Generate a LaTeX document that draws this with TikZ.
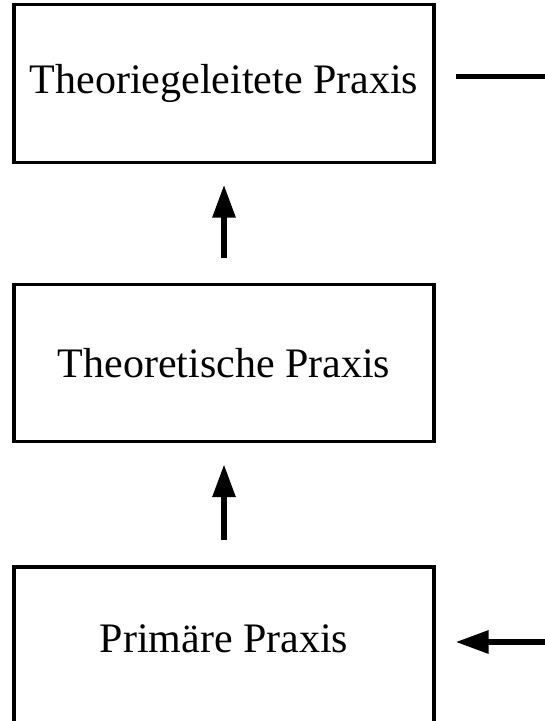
\documentclass[tikz,border=0pt]{standalone}
\usepackage{fontspec}
\setmainfont{Liberation Serif}
\usetikzlibrary{arrows.meta}
\tikzset{
  praxis/.style={draw, line width=2.3pt, inner sep=0pt, minimum width=315pt,
    font=\fontsize{31.5}{36}\selectfont},
  flow/.style={line width=4.5pt, -{Triangle[length=24.75pt,width=16.5pt]}}
}

\begin{document}
\begin{tikzpicture}[x=0.75pt, y=-0.75pt]
  \useasboundingbox (0,0) rectangle (545,721);
  \node[praxis, minimum height=118pt] (tgp) at (224,83.5) {Theoriegeleitete Praxis};
  \node[praxis, minimum height=118pt] (tp) at (224,363) {Theoretische Praxis};
  \node[praxis, minimum height=117pt, text depth=9pt] (pp) at (224,645) {Primäre Praxis};
  \coordinate (aus) at (545,76);
  \coordinate (ein) at (545,642);
  \draw[flow, shorten <=18.75pt, shorten >=15.75pt] (tp) -- (tgp);
  \draw[flow, shorten <=18.75pt, shorten >=15.75pt] (pp) -- (tp);
  \draw[line width=3.75pt, shorten <=15pt] (tgp.east |- aus) -- (aus);
  \draw[flow, shorten >=15pt] (ein) -- (pp.east |- ein);
\end{tikzpicture}
\end{document}
